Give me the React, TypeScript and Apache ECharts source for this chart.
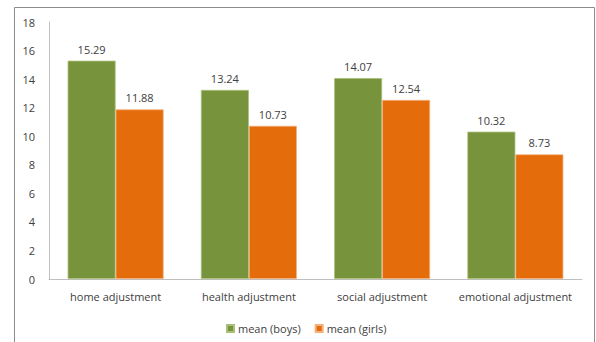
import React, { useEffect, useRef } from "react";
import * as echarts from "echarts";

const categories = ["home adjustment", "health adjustment", "social adjustment", "emotional adjustment"];
const boys = [15.29, 13.24, 14.07, 10.32];
const girls = [11.88, 10.73, 12.54, 8.73];
const seriesNames = ["mean (boys)", "mean (girls)"];

const FONT = "'Open Sans', sans-serif";

export default function App() {
  const ref = useRef<HTMLDivElement>(null);
  useEffect(() => {
    const chart = echarts.init(ref.current!, null, { renderer: "svg" });
    chart.setOption({
      animation: false,
      backgroundColor: "#ffffff",
      textStyle: { fontFamily: FONT },
      graphic: [
        {
          type: "rect",
          shape: { x: 14.5, y: 7.5, width: 580, height: 360 },
          style: { fill: "none", stroke: "#8c8c8c", lineWidth: 1 },
          silent: true,
        },
      ],
      grid: { left: 49, right: 14, top: 22, bottom: 63 },
      legend: {
        data: seriesNames,
        left: 221,
        top: 318,
        itemWidth: 7,
        itemHeight: 7,
        itemGap: 14,
        icon: "rect",
        textStyle: { color: "#404040", fontSize: 11, fontFamily: FONT, padding: [0, 0, 0, -1] },
      },
      xAxis: {
        type: "category",
        data: categories,
        axisLine: { show: true, lineStyle: { color: "#bfbfbf", width: 1 } },
        axisTick: { show: false },
        axisLabel: { color: "#404040", fontSize: 11, fontFamily: FONT, margin: 12, interval: 0 },
      },
      yAxis: {
        type: "value",
        min: 0,
        max: 18,
        interval: 2,
        axisLine: { show: true, lineStyle: { color: "#bfbfbf", width: 1 } },
        axisTick: { show: false },
        splitLine: { show: false },
        axisLabel: { color: "#404040", fontSize: 11, fontFamily: FONT, margin: 14 },
      },
      series: [
        {
          name: seriesNames[0],
          type: "bar",
          data: boys,
          barWidth: 48,
          barGap: "0%",
          itemStyle: { color: "#77933c", borderColor: "#a9c07a", borderWidth: 0.8 },
          label: { show: true, position: "top", distance: 6, color: "#404040", fontSize: 11, fontFamily: FONT, formatter: (p: any) => p.value.toFixed(2) },
        },
        {
          name: seriesNames[1],
          type: "bar",
          data: girls,
          barWidth: 48,
          barGap: "0%",
          itemStyle: { color: "#e46c0a", borderColor: "#f5b07c", borderWidth: 0.8 },
          label: { show: true, position: "top", distance: 6, color: "#404040", fontSize: 11, fontFamily: FONT, formatter: (p: any) => p.value.toFixed(2) },
        },
      ],
    });
    return () => chart.dispose();
  }, []);
  return <div ref={ref} style={{ position: "fixed", left: 0, top: 0, width: 596, height: 342 }} />;
}
